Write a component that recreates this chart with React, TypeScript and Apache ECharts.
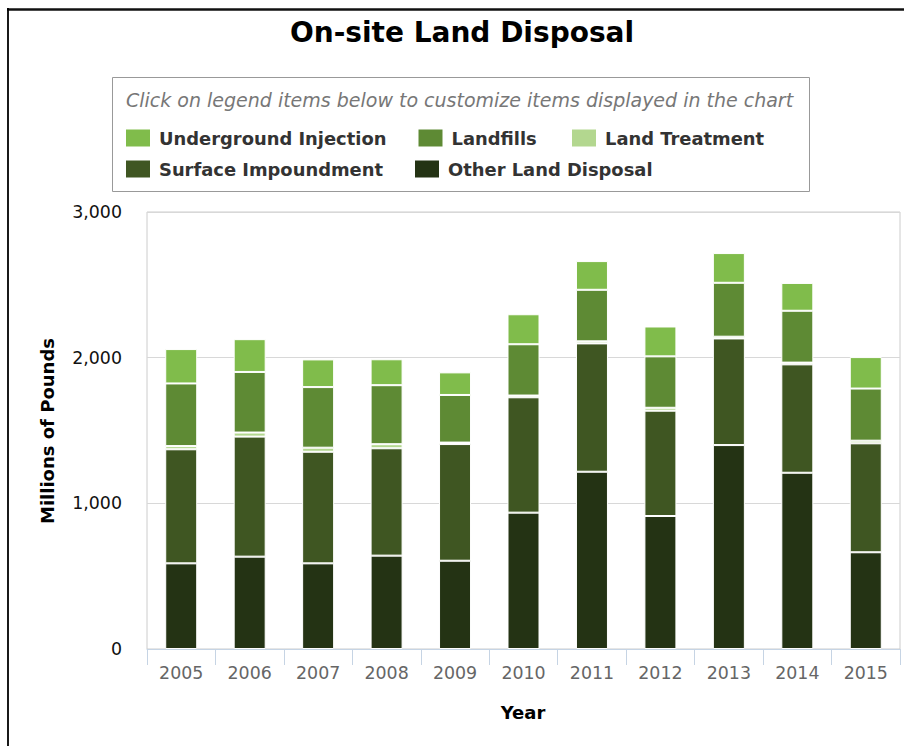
import React, { useEffect, useRef } from "react";
import * as echarts from "echarts";

const years = ["2005", "2006", "2007", "2008", "2009", "2010", "2011", "2012", "2013", "2014", "2015"];
const otherLandDisposal = [588, 634, 588, 641, 606, 936, 1217, 913, 1400, 1210, 664];
const surfaceImpoundment = [783, 824, 766, 737, 801, 792, 881, 723, 732, 744, 748];
const landTreatment = [22, 28, 28, 28, 10, 12, 14, 20, 12, 12, 18];
const landfills = [430, 416, 416, 405, 327, 352, 354, 353, 370, 356, 358];
const undergroundInjection = [236, 225, 190, 178, 155, 206, 197, 205, 204, 191, 216];

const seriesNames = ["Underground Injection", "Landfills", "Land Treatment", "Surface Impoundment", "Other Land Disposal"];
const seriesColors = ["#80bc4b", "#5e8a34", "#b3d78f", "#3f5622", "#243314"];

const FONT = "DejaVu Sans";

export default function App() {
  const ref = useRef<HTMLDivElement>(null);
  useEffect(() => {
    if (!ref.current) return;
    const chart = echarts.init(ref.current, null, { renderer: "svg" });
    const dataByName: Record<string, number[]> = {
      "Underground Injection": undergroundInjection,
      "Landfills": landfills,
      "Land Treatment": landTreatment,
      "Surface Impoundment": surfaceImpoundment,
      "Other Land Disposal": otherLandDisposal,
    };
    const stackOrder = ["Other Land Disposal", "Surface Impoundment", "Land Treatment", "Landfills", "Underground Injection"];
    const series = stackOrder.map((name) => ({
      name,
      type: "bar",
      stack: "total",
      barWidth: 32,
      data: dataByName[name],
      itemStyle: { color: seriesColors[seriesNames.indexOf(name)], borderColor: "#ffffff", borderWidth: 1 },
    }));
    const legendPos = [
      { left: 124, top: 127.5 },
      { left: 416.5, top: 127.5 },
      { left: 570, top: 127.5 },
      { left: 124, top: 158.5 },
      { left: 413, top: 158.5 },
    ];
    const legends = seriesNames.map((name, i) => ({
      data: [name],
      left: legendPos[i].left,
      top: legendPos[i].top,
      padding: 0,
      itemWidth: 26,
      itemHeight: 19,
      itemGap: 0,
      icon: "rect",
      textStyle: { fontFamily: FONT, fontWeight: "bold", fontSize: 17.9, color: "#333333", lineHeight: 19, padding: [0, 0, 0, 3] },
    }));
    chart.setOption({
      animation: false,
      backgroundColor: "#ffffff",
      color: seriesColors,
      legend: legends,
      grid: { left: 147, right: 4, top: 212, height: 437, show: true, borderColor: "#cccccc", borderWidth: 1 },
      xAxis: {
        type: "category",
        data: years,
        axisLine: { lineStyle: { color: "#c6d4e4", width: 1 } },
        axisTick: { show: true, length: 16, lineStyle: { color: "#c6d4e4" } },
        axisLabel: { color: "#666666", fontFamily: FONT, fontSize: 17.4, margin: 15 },
      },
      yAxis: {
        type: "value",
        min: 0,
        max: 3000,
        interval: 1000,
        axisLine: { show: false },
        axisTick: { show: false },
        splitLine: { lineStyle: { color: "#d8d8d8", width: 1 } },
        axisLabel: {
          color: "#111111",
          fontFamily: FONT,
          fontSize: 17.4,
          margin: 25,
          formatter: (v: number) => v.toLocaleString("en-US"),
        },
      },
      graphic: [
        { type: "line", shape: { x1: 7, y1: 9.5, x2: 904, y2: 9.5 }, style: { stroke: "#111111", lineWidth: 2.5 } },
        { type: "line", shape: { x1: 8, y1: 8, x2: 8, y2: 746 }, style: { stroke: "#000000", lineWidth: 1.8 } },
        {
          type: "text",
          x: 462,
          y: 32,
          style: { text: "On-site Land Disposal", fontFamily: FONT, fontWeight: "bold", fontSize: 28, fill: "#000000", textAlign: "center", textVerticalAlign: "middle" },
        },
        { type: "rect", shape: { x: 112.5, y: 77.5, width: 697, height: 114 }, style: { fill: "none", stroke: "#999999", lineWidth: 1 } },
        {
          type: "text",
          x: 126,
          y: 100,
          style: { text: "Click on legend items below to customize items displayed in the chart", fontFamily: FONT, fontStyle: "italic", fontSize: 19, fill: "#777777", textAlign: "left", textVerticalAlign: "middle" },
        },
        {
          type: "text",
          x: 47,
          y: 431,
          rotation: Math.PI / 2,
          style: { text: "Millions of Pounds", fontFamily: FONT, fontWeight: "bold", fontSize: 18, fill: "#000000", textAlign: "center", textVerticalAlign: "middle" },
        },
        {
          type: "text",
          x: 523,
          y: 712,
          style: { text: "Year", fontFamily: FONT, fontWeight: "bold", fontSize: 18, fill: "#000000", textAlign: "center", textVerticalAlign: "middle" },
        },
      ],
      series,
    });
    return () => chart.dispose();
  }, []);
  return <div ref={ref} style={{ position: "absolute", left: 0, top: 0, width: 904, height: 746, background: "#fff" }} />;
}
